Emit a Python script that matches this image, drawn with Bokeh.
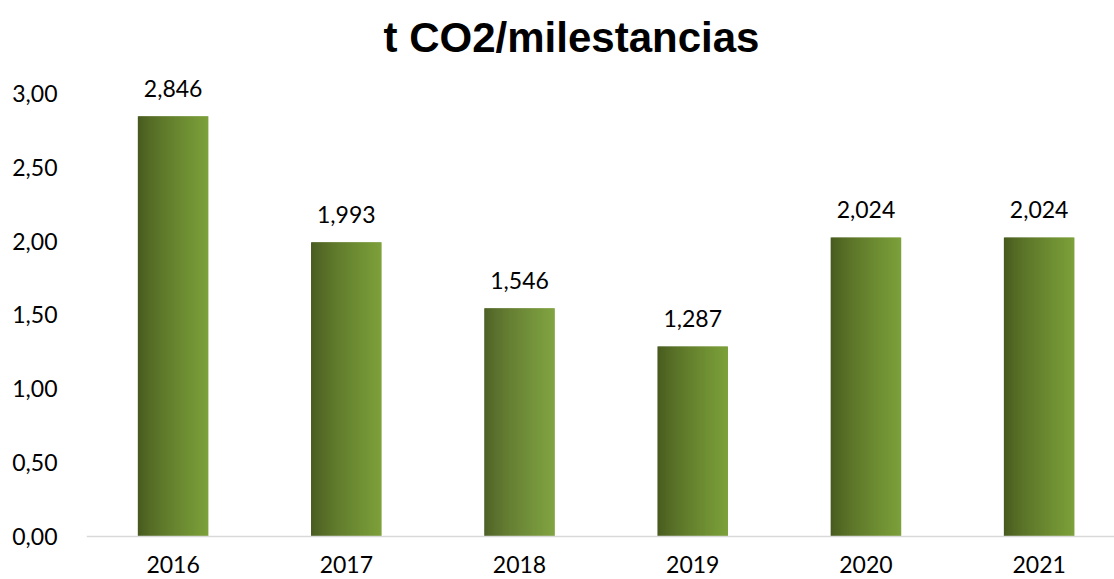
from bokeh.plotting import figure
from bokeh.models import FixedTicker, Range1d, ColumnDataSource, Span
from bokeh.core.properties import value
from bokeh.embed import file_html
from bokeh.resources import INLINE

# ---- data ----
years = ["2016", "2017", "2018", "2019", "2020", "2021"]
values = [2.846, 1.993, 1.546, 1.287, 2.024, 2.024]
value_labels = ["2,846", "1,993", "1,546", "1,287", "2,024", "2,024"]
y_ticks = [0.0, 0.5, 1.0, 1.5, 2.0, 2.5, 3.0]
y_tick_labels = ["0,00", "0,50", "1,00", "1,50", "2,00", "2,50", "3,00"]
title_text = "t CO2/milestancias"

FONT = "Lato"
W, H = 1114, 579

p = figure(width=W, height=H, output_backend="svg", toolbar_location=None,
           x_range=Range1d(0, 5.935), y_range=Range1d(-0.2912, 3.6298),
           x_axis_location=None,
           min_border_left=86, min_border_right=0, min_border_top=0,
           min_border_bottom=0)
p.outline_line_color = None
p.grid.visible = False
p.background_fill_color = "white"
p.border_fill_color = "white"

centers = [i + 0.5 for i in range(len(years))]

# baseline axis line
p.add_layout(Span(location=0, dimension="width", line_color="#d9d9d9", line_width=1.5))

# gradient bars via thin overlapping slices
N = 70
bw = 0.404
c0 = (0x46, 0x58, 0x1e)
c1 = (0x7c, 0xa0, 0x3a)
xs, tops, cols = [], [], []
for c, v in zip(centers, values):
    for k in range(N):
        t = (k + 0.5) / N
        tt = t ** 0.75
        col = "#%02x%02x%02x" % tuple(int(round(a + (b - a) * tt)) for a, b in zip(c0, c1))
        xs.append(c - bw / 2 + (k + 0.5) * bw / N)
        tops.append(v)
        cols.append(col)
src = ColumnDataSource(dict(x=xs, top=tops, color=cols))
p.vbar(x="x", top="top", width=bw / N * 1.6, bottom=0, source=src,
       fill_color="color", line_color=None)

# value labels
lsrc = ColumnDataSource(dict(x=centers, y=values, t=value_labels))
p.text(x="x", y="y", text="t", source=lsrc, text_align="center",
       text_baseline="middle", y_offset=-28, text_font=value(FONT),
       text_font_size="23px", text_color="#000000")

# category labels (x axis)
xsrc = ColumnDataSource(dict(x=centers, y=[0] * len(years), t=years))
p.text(x="x", y="y", text="t", source=xsrc, text_align="center",
       text_baseline="middle", y_offset=28, text_font=value(FONT),
       text_font_size="23px", text_color="#000000")

# y axis
p.yaxis.ticker = FixedTicker(ticks=y_ticks)
p.yaxis.major_label_overrides = {t: l for t, l in zip(y_ticks, y_tick_labels)}
p.yaxis.axis_line_color = None
p.yaxis.major_tick_line_color = None
p.yaxis.minor_tick_line_color = None
p.yaxis.major_label_standoff = 23
p.yaxis.major_label_text_font = FONT
p.yaxis.major_label_text_font_size = "23px"
p.yaxis.major_label_text_color = "#000000"

# title
tsrc = ColumnDataSource(dict(x=[2.80], y=[3.379], t=[title_text]))
p.text(x="x", y="y", text="t", source=tsrc, text_align="center",
       text_baseline="middle", text_font=value("Liberation Sans"),
       text_font_style="bold", text_font_size="42px", text_color="#000000")

open("out.html", "w").write(file_html(p, INLINE))
